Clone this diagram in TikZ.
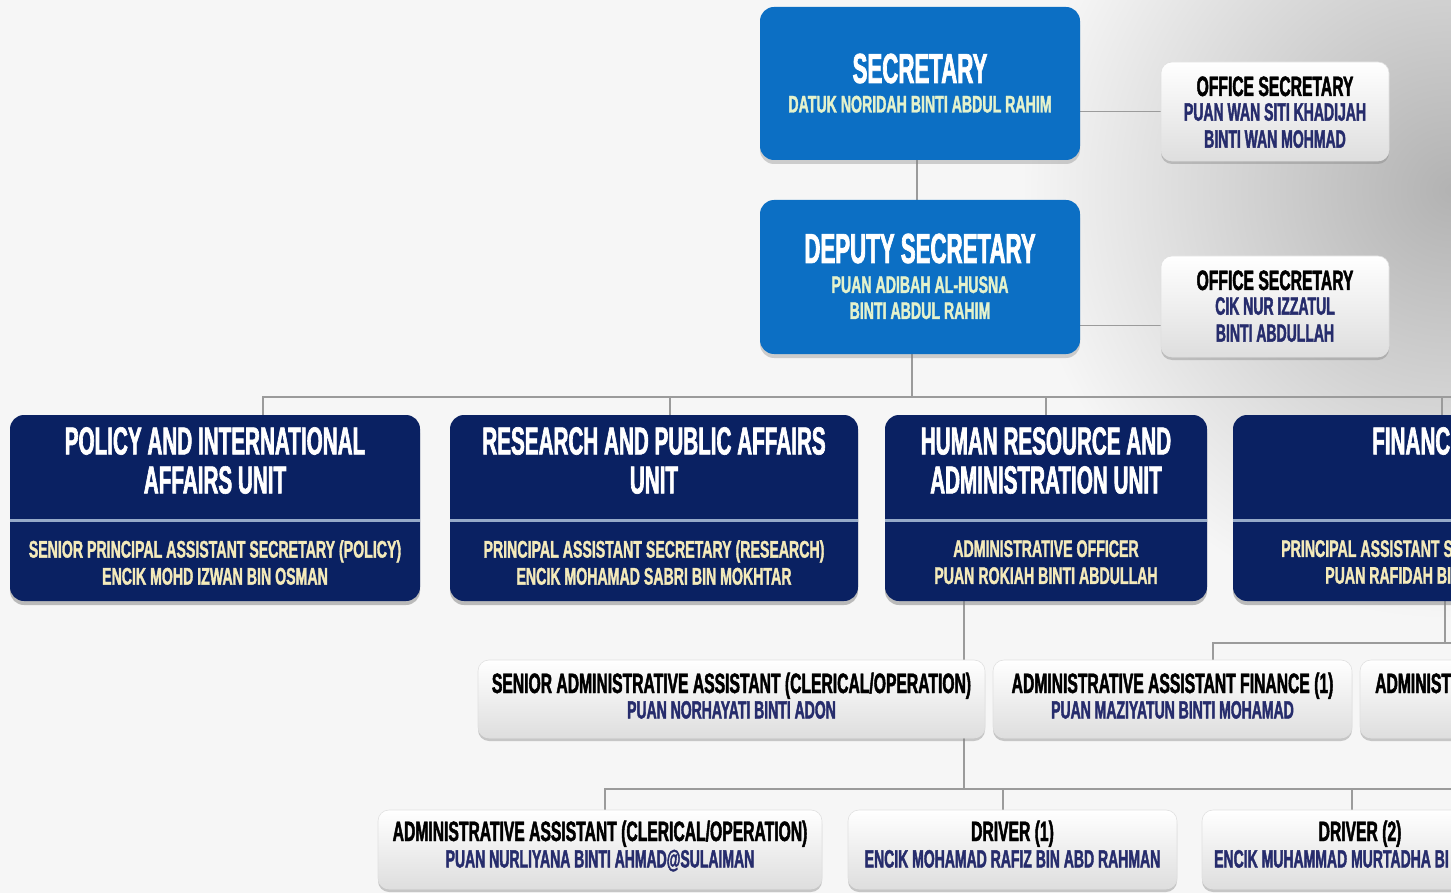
\documentclass[tikz,border=0pt]{standalone}
\usepackage{fontspec}
\setmainfont[FakeStretch=0.53,BoldFeatures={FakeBold=1.6}]{Liberation Sans}
\newfontfamily\namefont[FakeStretch=0.59,BoldFeatures={FakeBold=1.4}]{Liberation Sans}
\newfontfamily\stafffont[FakeStretch=0.56,BoldFeatures={FakeBold=1.6}]{Liberation Sans}
\usetikzlibrary{shadows}
\pgfdeclarelayer{background}
\pgfsetlayers{background,main}

\definecolor{secblue}{RGB}{12,111,196}
\definecolor{unitnavy}{RGB}{10,33,98}
\definecolor{namecream}{RGB}{244,234,186}
\definecolor{palegreen}{RGB}{228,242,204}
\definecolor{namenavy}{RGB}{38,44,108}
\definecolor{linkgray}{RGB}{155,155,155}
\definecolor{rulesteel}{RGB}{150,170,200}
\definecolor{bgpaper}{RGB}{246,246,246}

\begin{document}
\begin{tikzpicture}[x=1pt,y=-1pt]

\tikzset{headbox/.style={rounded corners=14pt,fill=secblue,minimum width=320pt,minimum height=153pt,inner sep=0pt,
    drop shadow={shadow xshift=0pt,shadow yshift=-4pt,opacity=0.35}},}
\tikzset{unitbox/.style={rounded corners=14pt,fill=unitnavy,minimum height=186pt,inner sep=0pt,
    drop shadow={shadow xshift=0pt,shadow yshift=-4pt,opacity=0.5}},}
\tikzset{staffbox/.style={rounded corners=11pt,top color=white,bottom color=black!13,draw=black!12,line width=0.6pt,inner sep=0pt,
    drop shadow={shadow xshift=0pt,shadow yshift=-3pt,opacity=0.4}},}
\tikzset{link/.style={draw=linkgray,line width=1.1pt},}
\tikzset{sepline/.style={draw=rulesteel,line width=3pt},}
\tikzset{bigtitle/.style={inner sep=0pt,text=white,text height=30pt,text depth=0pt,font=\fontsize{42}{42}\selectfont\bfseries},}
\tikzset{bluename/.style={inner sep=0pt,text=palegreen,align=center,font=\namefont\fontsize{24}{26}\selectfont\bfseries},}
\tikzset{unittitle/.style={inner sep=0pt,text=white,align=center,font=\fontsize{39}{39}\selectfont\bfseries},}
\tikzset{unitname/.style={inner sep=0pt,text=namecream,align=center,font=\namefont\fontsize{24}{27}\selectfont\bfseries},}
\tikzset{stafftitle/.style={inner sep=0pt,text=black,text height=20pt,text depth=0pt,font=\stafffont\fontsize{28}{28}\selectfont\bfseries},}
\tikzset{staffname/.style={inner sep=0pt,text=namenavy,align=center,font=\stafffont\fontsize{25}{27}\selectfont\bfseries},}

\useasboundingbox (0,0) rectangle (1451,893);
\clip (0,0) rectangle (1451,893);

  % top
  \node[headbox] (sec) at (920,83.5) {};
  \node[bigtitle] (sec-t) at (920,68) {SECRETARY};
  \node[bluename,text height=17pt,text depth=0pt] (sec-n) at (920,104) {DATUK NORIDAH BINTI ABDUL RAHIM};

  \node[headbox,minimum height=154pt] (dep) at (920,277) {};
  \node[bigtitle] (dep-t) at (920,248) {DEPUTY SECRETARY};
  \node[bluename,anchor=north] (dep-n) at (920,276) {PUAN ADIBAH AL-HUSNA\\BINTI ABDUL RAHIM};

  \node[staffbox,minimum width=228pt,minimum height=99pt] (os1) at (1275,111.5) {};
  \node[stafftitle] (os1-t) at (1275,86) {OFFICE SECRETARY};
  \node[staffname,anchor=north] (os1-n) at (1275,103) {PUAN WAN SITI KHADIJAH\\BINTI WAN MOHMAD};

  \node[staffbox,minimum width=228pt,minimum height=101pt] (os2) at (1275,306.5) {};
  \node[stafftitle] (os2-t) at (1275,280) {OFFICE SECRETARY};
  \node[staffname,anchor=north] (os2-n) at (1275,297) {CIK NUR IZZATUL\\BINTI ABDULLAH};

  % units
  \coordinate (sepy) at (0,520);
  \node[unitbox,minimum width=410pt] (pol) at (215,508) {};
  \node[unittitle,anchor=north] (pol-t) at (215,427) {POLICY AND INTERNATIONAL\\AFFAIRS UNIT};
  \node[unitname,anchor=north] (pol-n) at (215,540) {SENIOR PRINCIPAL ASSISTANT SECRETARY (POLICY)\\ENCIK MOHD IZWAN BIN OSMAN};

  \node[unitbox,minimum width=408pt] (res) at (654,508) {};
  \node[unittitle,anchor=north] (res-t) at (654,427) {RESEARCH AND PUBLIC AFFAIRS\\UNIT};
  \node[unitname,anchor=north] (res-n) at (654,540) {PRINCIPAL ASSISTANT SECRETARY (RESEARCH)\\ENCIK MOHAMAD SABRI BIN MOKHTAR};

  \node[unitbox,minimum width=322pt] (hr) at (1046,508) {};
  \node[unittitle,anchor=north] (hr-t) at (1046,427) {HUMAN RESOURCE AND\\ADMINISTRATION UNIT};
  \node[unitname,anchor=north] (hr-n) at (1046,540) {ADMINISTRATIVE OFFICER\\PUAN ROKIAH BINTI ABDULLAH};

  \node[unitbox,minimum width=428pt] (fin) at (1447,508) {};
  \node[unittitle,anchor=north west] (fin-t) at (1372,427) {FINANC};
  \node[unitname,anchor=north west] (fin-n) at (1281,540) {PRINCIPAL ASSISTANT S};
  \node[unitname,anchor=north west] (fin-m) at (1325,567) {PUAN RAFIDAH BI};

  \foreach \u in {pol,res,hr,fin}
    \draw[sepline] (\u.west |- sepy) -- (\u.east |- sepy);

  % second row
  \node[staffbox,minimum width=507pt,minimum height=78pt] (sradm) at (731.5,699) {};
  \node[stafftitle] (sradm-t) at (731.5,683) {SENIOR ADMINISTRATIVE ASSISTANT (CLERICAL/OPERATION)};
  \node[staffname,text height=17pt,text depth=0pt] (sradm-n) at (731.5,710) {PUAN NORHAYATI BINTI ADON};

  \node[staffbox,minimum width=359pt,minimum height=78pt] (adf1) at (1172.5,699) {};
  \node[stafftitle] (adf1-t) at (1172.5,683) {ADMINISTRATIVE ASSISTANT FINANCE (1)};
  \node[staffname,text height=17pt,text depth=0pt] (adf1-n) at (1172.5,710) {PUAN MAZIYATUN BINTI MOHAMAD};

  \node[staffbox,minimum width=360pt,minimum height=78pt] (adf2) at (1540,699) {};
  \node[stafftitle,anchor=west] (adf2-t) at (1375,683) {ADMINIST};

  % third row
  \node[staffbox,minimum width=444pt,minimum height=79pt] (aa) at (600,849.5) {};
  \node[stafftitle] (aa-t) at (600,831) {ADMINISTRATIVE ASSISTANT (CLERICAL/OPERATION)};
  \node[staffname,text height=17pt,text depth=0pt] (aa-n) at (600,859) {PUAN NURLIYANA BINTI AHMAD@SULAIMAN};

  \node[staffbox,minimum width=329pt,minimum height=79pt] (drv1) at (1012.5,849.5) {};
  \node[stafftitle] (drv1-t) at (1012.5,831) {DRIVER (1)};
  \node[staffname,text height=17pt,text depth=0pt] (drv1-n) at (1012.5,859) {ENCIK MOHAMAD RAFIZ BIN ABD RAHMAN};

  \node[staffbox,minimum width=316pt,minimum height=79pt] (drv2) at (1360,849.5) {};
  \node[stafftitle] (drv2-t) at (1360,831) {DRIVER (2)};
  \node[staffname,anchor=west,text height=17pt,text depth=0pt] (drv2-n) at (1214,859) {ENCIK MUHAMMAD MURTADHA BI};

  \begin{pgfonlayer}{background}
    \fill[bgpaper] (0,0) rectangle (1451,893);
    \shade[inner color=black!30,outer color=bgpaper] (1451,190) circle (430pt);
    \coordinate (bus1) at (1460,397);
    \coordinate (bus2) at (1460,643);
    \coordinate (bus3) at (1460,789);
    %edges for top
    \draw[link] (os1.west) -- (os1.west -| sec.east);
    \draw[link] ([xshift=-3pt]sec.south) -- ([xshift=-3pt]dep.north);
    \draw[link] ([yshift=-19pt]os2.west) -- ++(-81,0);
    \draw[link] ([xshift=-8pt]dep.south) -- ++(0,43);
    %edges for units
    \draw[link] ([xshift=48pt]pol.north) |- (bus1);
    \draw[link] ([xshift=16pt]res.north) -- ++(0,-18);
    \draw[link] (hr.north) -- ++(0,-18);
    \draw[link] ([xshift=-5pt]fin.north) -- ++(0,-18);
    %edges for staff
    \draw[link] ([xshift=-2pt]fin.south) -- ++(0,42);
    \draw[link] ([xshift=40.5pt]adf1.north) |- (bus2);
    \draw[link] ([xshift=40pt]adf2.north) -- ++(0,-17);
    \draw[link] ([xshift=-82pt]hr.south) -- ++(0,59);
    \draw[link] ([xshift=232.5pt]sradm.south) -- ++(0,51);
    \draw[link] ([xshift=5pt]aa.north) |- (bus3);
    \draw[link] ([xshift=-9.5pt]drv1.north) -- ++(0,-21);
    \draw[link] ([xshift=-8pt]drv2.north) -- ++(0,-21);
  \end{pgfonlayer}

\end{tikzpicture}
\end{document}
